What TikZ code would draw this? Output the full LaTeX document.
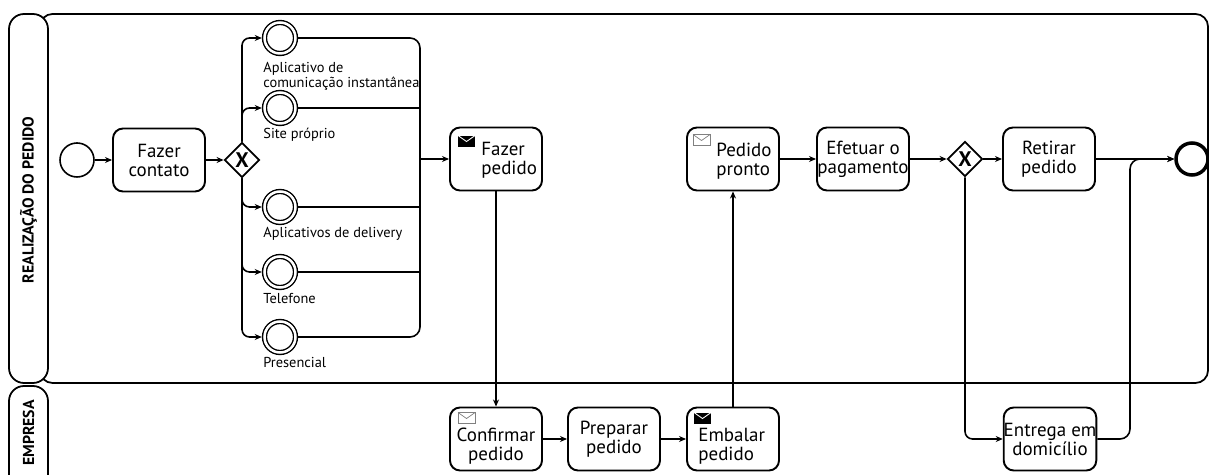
\documentclass[tikz,border=0pt]{standalone}
\usepackage{fontspec}
\setmainfont{PT Sans}
\usetikzlibrary{shapes.geometric}
\usetikzlibrary{arrows.meta}
\def\px{0.02cm}
\newcommand\tasktxt{\fontsize{10.8}{10.8}\selectfont}
\newcommand\smalltxt{\fontsize{8.2}{8.4}\selectfont}
\newcommand\lanetxt{\fontsize{9}{9}\selectfont\bfseries}
\newcommand\sendicon[1]{%
  \fill[black] (#1) rectangle ++(17,11);
  \draw[white,line width=0.5pt] (#1) -- ++(8.5,6) -- ++(8.5,-6);}
\newcommand\catchicon[1]{%
  \draw[gray,line width=0.4pt] (#1) rectangle ++(17,11);
  \draw[gray,line width=0.4pt] (#1) -- ++(8.5,6) -- ++(8.5,-6);}

\begin{document}
\begin{tikzpicture}[x=\px,y=-\px,
  task/.style={draw,line width=1.1pt,rounded corners=0.2cm,minimum width=92*\px,
    minimum height=63*\px,inner sep=0pt,align=center,font=\tasktxt},
  tasklabel/.style={inner sep=0pt,align=left,anchor=west,font=\tasktxt},
  start/.style={circle,draw,line width=0.9pt,minimum size=34*\px,inner sep=0pt},
  inter/.style={circle,draw,line width=0.8pt,double,double distance=2.5*\px,
    minimum size=31*\px,inner sep=0pt,outer sep=2.7*\px},
  finish/.style={circle,draw,line width=2pt,minimum size=32*\px,inner sep=0pt},
  gate/.style={diamond,draw,line width=1pt,minimum width=35*\px,minimum height=35*\px,
    inner sep=0pt,font=\fontsize{12}{12}\selectfont\bfseries},
  evlabel/.style={inner sep=0pt,align=left,anchor=north west,font=\smalltxt},
  flow/.style={-{Stealth[length=4pt,width=3.4pt]},line width=0.9pt},
  seq/.style={line width=0.9pt}]
  \useasboundingbox (0,0) rectangle (1209,475);
  \clip (0,0) rectangle (1209,475);

  %lanes
  \draw[line width=1pt,rounded corners=0.25cm] (40,14) rectangle (1208,383);
  \draw[fill=white,line width=1pt,rounded corners=0.3cm] (9,14) rectangle (48,383);
  \node[rotate=90,font=\lanetxt] (lanepedido) at (28.5,200) {REALIZAÇÃO DO PEDIDO};
  \draw[fill=white,line width=1pt,rounded corners=0.3cm] (9,386) rectangle (48,500);
  \node[rotate=90,font=\lanetxt] (laneempresa) at (28.5,433) {EMPRESA};

  %contact
  \node[start] (inicio) at (77,160) {};
  \node[task] (contato) at (159,160) {Fazer\\contato};
  \node[gate] (gw1) at (242,160) {X};

  %channels
  \node[inter] (ev1) at (280,38) {};
  \node[inter] (ev2) at (280,108) {};
  \node[inter] (ev3) at (280,207) {};
  \node[inter] (ev4) at (280,272) {};
  \node[inter] (ev5) at (280,337) {};
  \node[evlabel] (ev1txt) at (263,62) {Aplicativo de\\comunicação instantânea};
  \node[evlabel] (ev2txt) at (263,128) {Site próprio};
  \node[evlabel] (ev3txt) at (263,227) {Aplicativos de delivery};
  \node[evlabel] (ev4txt) at (263,293) {Telefone};
  \node[evlabel] (ev5txt) at (263,357) {Presencial};
  \coordinate (juntar) at (420,159);

  %order
  \node[task] (fazerpedido) at (496,159) {};
  \node[tasklabel] (fazerpedidotxt) at (481,160) {Fazer\\pedido};
  \sendicon{[shift={(9,9)}]fazerpedido.north west}
  \node[task] (confirmar) at (496,439) {};
  \node[font=\tasktxt,align=center,inner sep=0pt] (confirmartxt) at (496,446) {Confirmar\\pedido};
  \catchicon{[shift={(9,6)}]confirmar.north west}
  \node[task] (preparar) at (614,439) {Preparar\\pedido};
  \node[task] (embalar) at (733,439) {};
  \node[tasklabel] (embalartxt) at (698,446) {Embalar\\pedido};
  \sendicon{[shift={(8,6)}]embalar.north west}
  \node[task] (pronto) at (733,159) {};
  \node[tasklabel] (prontotxt) at (716,161) {Pedido\\pronto};
  \catchicon{[shift={(7,8)}]pronto.north west}

  %payment and delivery
  \node[task] (efetuar) at (863,159) {Efetuar o\\pagamento};
  \node[gate] (gw2) at (965,159) {X};
  \node[task] (retirar) at (1049,159) {Retirar\\pedido};
  \node[task] (entrega) at (1050,439) {Entrega em\\domicílio};
  \node[finish] (fim) at (1192,159) {};
  \coordinate (unir) at (1130,159);

  %flows
  \draw[flow] (inicio) -- (contato);
  \draw[flow] (contato) -- (gw1);
  \foreach \e in {ev1,ev2}
    \draw[flow,rounded corners=0.15cm] (gw1.north) |- (\e.west);
  \foreach \e in {ev3,ev4,ev5}
    \draw[flow,rounded corners=0.15cm] (gw1.south) |- (\e.west);
  \draw[seq,rounded corners=0.2cm] (ev1.east) -| (juntar);
  \draw[seq,rounded corners=0.2cm] (ev5.east) -| (juntar);
  \foreach \e in {ev2,ev3,ev4}
    \draw[seq] (\e.east) -- (\e.east -| juntar);
  \draw[flow] (juntar) -- (fazerpedido);
  \draw[flow] (fazerpedido) -- (confirmar);
  \draw[flow] (confirmar) -- (preparar);
  \draw[flow] (preparar) -- (embalar);
  \draw[flow] (embalar) -- (pronto);
  \draw[flow] (pronto) -- (efetuar);
  \draw[flow] (efetuar) -- (gw2);
  \draw[flow] (gw2) -- (retirar);
  \draw[flow] (retirar) -- (fim);
  \draw[flow,rounded corners=0.15cm] (gw2.south) |- (entrega.west);
  \draw[flow,rounded corners=0.2cm] (entrega.east) -| (unir) -- (fim.west);
\end{tikzpicture}
\end{document}
